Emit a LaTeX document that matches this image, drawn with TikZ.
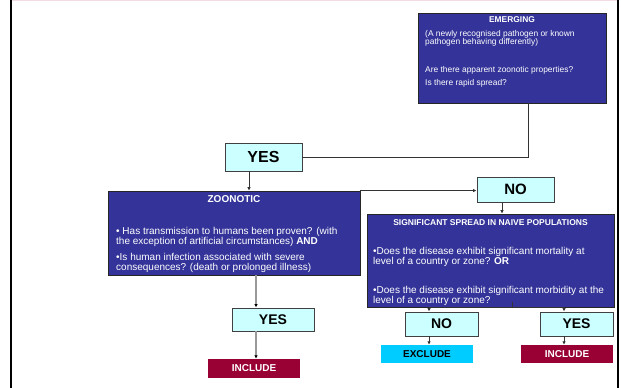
\documentclass[tikz,border=0pt]{standalone}
\usepackage{fontspec}
\setmainfont{Liberation Sans}
\usetikzlibrary{arrows.meta}
\definecolor{boxblue}{HTML}{333399}
\definecolor{ansfill}{HTML}{CCFFFF}
\definecolor{exclcol}{HTML}{00CCFF}
\definecolor{inclcol}{HTML}{990033}
\definecolor{framepink}{HTML}{F2DCE2}
\tikzset{
  bluebox/.style={draw=black!85, line width=0.8pt, fill=boxblue, inner sep=0pt, minimum width=#1},
  ansbox/.style={draw=black!75, line width=0.9pt, fill=ansfill, inner sep=0pt, font=\bfseries\fontsize{14}{14}\selectfont},
  resbox/.style={inner sep=0pt, font=\bfseries\fontsize{10}{10}\selectfont},
  ttl/.style={inner sep=0pt, anchor=base, text=white, font=\bfseries},
  body/.style={inner sep=0pt, anchor=base west, text=white, align=left},
  conn/.style={draw=black!80, line width=0.7pt},
  arr/.style={conn, -{Latex[length=3.5pt,width=3.5pt]}},
  grayconn/.style={draw=black!40, line width=1.4pt, -{Latex[length=3.5pt,width=3.5pt,color=black]}},
}
\begin{document}
\begin{tikzpicture}[x=1pt,y=-1pt]
\useasboundingbox (0,0) rectangle (621,388);
% frame
\draw[framepink, line width=1pt] (11,0.5) -- (618,0.5);
\draw[black, line width=1.8pt] (11,0) -- (11,388);
\draw[black, line width=1.8pt] (618,0) -- (618,388);
% boxes
\node[bluebox=188pt, minimum height=90pt] (emerg) at (512,58) {};
\node[ansbox, minimum width=77pt, minimum height=28pt, font=\bfseries\fontsize{16}{16}\selectfont] (yesA) at (263.5,157) {YES};
\node[bluebox=252pt, minimum height=84pt] (zoon) at (234,233) {};
\node[ansbox, minimum width=77pt, minimum height=25pt, font=\bfseries\fontsize{15}{15}\selectfont] (noA) at (515.5,189.5) {NO};
\node[bluebox=247pt, minimum height=93pt] (sig) at (490.5,260.5) {};
\node[ansbox, minimum width=82pt, minimum height=23pt] (yesB) at (273,319.5) {YES};
\node[ansbox, minimum width=73pt, minimum height=24pt] (noB) at (441.5,324) {NO};
\node[ansbox, minimum width=73pt, minimum height=24pt] (yesC) at (576.5,324) {YES};
\node[resbox, fill=inclcol, text=white, minimum width=92pt, minimum height=19pt] (incA) at (254,368.5) {INCLUDE};
\node[resbox, fill=exclcol, text=black, minimum width=92pt, minimum height=18pt] (excl) at (427,354) {EXCLUDE};
\node[resbox, fill=inclcol, text=white, minimum width=92pt, minimum height=18pt] (incB) at (567,354) {INCLUDE};
% texts in EMERGING (multi-line nodes: base = baseline of last line)
\node[ttl, font=\bfseries\fontsize{8.4}{9}\selectfont] (emergT) at (512,23) {EMERGING};
\node[body, font=\fontsize{8.4}{8}\selectfont] (emergA) at (425,44) {(A newly recognised pathogen or known\\pathogen behaving differently)};
\node[body, font=\fontsize{8.4}{8}\selectfont] (emergB) at (425,72) {Are there apparent zoonotic properties?};
\node[body, font=\fontsize{8.4}{8}\selectfont] (emergC) at (425,85) {Is there rapid spread?};
% texts in ZOONOTIC
\node[ttl, font=\bfseries\fontsize{10}{10}\selectfont] (zoonT) at (234,202) {ZOONOTIC};
\node[body, font=\fontsize{10}{10}\selectfont] (zoonA) at (116,244) {• Has transmission to humans been proven? (with\\the exception of artificial circumstances) \textbf{AND}};
\node[body, font=\fontsize{10}{10}\selectfont] (zoonB) at (116,270) {•Is human infection associated with severe\\consequences? (death or prolonged illness)};
% texts in SIGNIFICANT SPREAD
\node[ttl, font=\bfseries\fontsize{8.5}{8}\selectfont] (sigT) at (490.5,225) {SIGNIFICANT SPREAD IN NAIVE POPULATIONS};
\node[body, font=\fontsize{10}{10}\selectfont] (sigA) at (373,264) {•Does the disease exhibit significant mortality at\\level of a country or zone? \textbf{OR}};
\node[body, font=\fontsize{10}{10}\selectfont] (sigB) at (373,303) {•Does the disease exhibit significant morbidity at the\\level of a country or zone?};
% helper coordinates
\coordinate (bendA) at (528,157);
\coordinate (xa) at (249,0);
\coordinate (xb) at (502,0);
\coordinate (xc) at (512,302);
\coordinate (xd) at (429,0);
\coordinate (xf) at (564,0);
\coordinate (xe) at (256,0);
% connectors
\draw[conn] (emerg.south -| bendA) -- (bendA) -- (yesA.east |- bendA);
\draw[arr] (yesA.south -| xa) -- (zoon.north -| xa);
\draw[arr] (zoon.north east) -- (noA.west |- zoon.north east);
\draw[arr] (noA.south -| xb) -- (sig.north -| xb);
\draw[conn] (xc) -- (sig.south -| xc);
\draw[arr] (sig.south -| xc) -| (noB.north -| xd);
\draw[arr] (sig.south -| xc) -| (yesC.north -| xf);
\draw[arr] (noB.south -| xd) -- (excl.north -| xd);
\draw[arr] (yesC.south -| xf) -- (incB.north -| xf);
\draw[grayconn] (zoon.south -| xe) -- (yesB.north -| xe);
\draw[grayconn] (yesB.south -| xe) -- (incA.north -| xe);
\end{tikzpicture}
\end{document}
